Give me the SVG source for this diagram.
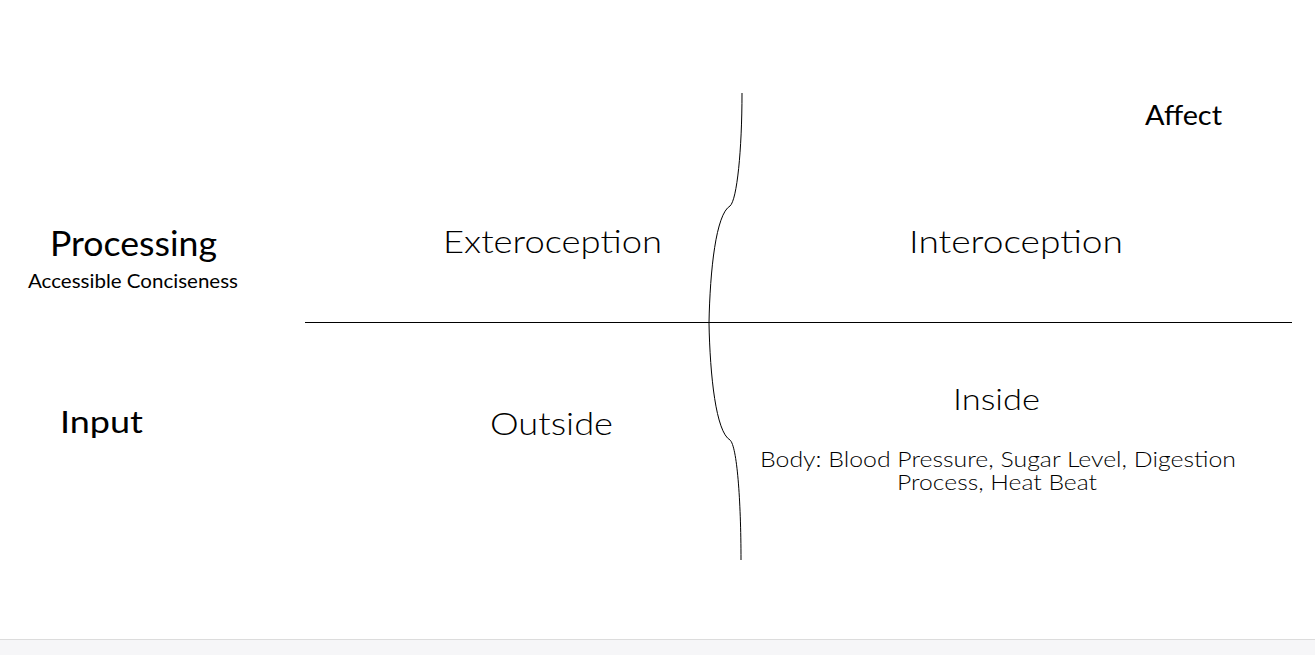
<svg xmlns="http://www.w3.org/2000/svg" width="1315" height="655" viewBox="0 0 1315 655">
<style>
.t{font-family:Lato,"Open Sans","Liberation Sans",sans-serif;fill:#000;text-anchor:middle}
.l{font-weight:300}
.ln{fill:none;stroke:#000;stroke-width:1}
</style>
<rect width="1315" height="655" fill="#fff"/>
<rect x="0" y="640" width="1315" height="15" fill="#f6f6f8"/>
<line x1="0" y1="639.5" x2="1315" y2="639.5" stroke="#dcdcdc" stroke-width="1"/>
<g id="connectors">
<line class="ln" x1="305" y1="322.5" x2="1292" y2="322.5"/>
<path class="ln" stroke="#333" d="M742,93 C742,150 737,200 730,206 C716,214 710,270 709,323 C710,376 716,432 730,440 C737,446 741,500 741,560"/>
</g>
<g id="processing"><text class="t" x="133.5" y="256" font-size="34" textLength="167" lengthAdjust="spacingAndGlyphs">Processing</text>
<text class="t" x="133" y="288" font-size="19" textLength="210" lengthAdjust="spacingAndGlyphs">Accessible Conciseness</text></g>
<g id="input"><text class="t" x="101.5" y="433" font-size="31" textLength="83" lengthAdjust="spacingAndGlyphs">Input</text></g>
<g id="exteroception"><text class="t l" x="552.5" y="253" font-size="32" textLength="219" lengthAdjust="spacingAndGlyphs">Exteroception</text></g>
<g id="interoception"><text class="t l" x="1016" y="253" font-size="32" textLength="214" lengthAdjust="spacingAndGlyphs">Interoception</text></g>
<g id="outside"><text class="t l" x="551.5" y="435" font-size="32" textLength="123" lengthAdjust="spacingAndGlyphs">Outside</text></g>
<g id="inside"><text class="t l" x="996.5" y="410" font-size="30" textLength="87" lengthAdjust="spacingAndGlyphs">Inside</text>
<text class="t l" x="998" y="467" font-size="21" textLength="476" lengthAdjust="spacingAndGlyphs">Body: Blood Pressure, Sugar Level, Digestion</text>
<text class="t l" x="997" y="490" font-size="21" textLength="200" lengthAdjust="spacingAndGlyphs">Process, Heat Beat</text></g>
<g id="affect"><text class="t" x="1183.5" y="125" font-size="26" textLength="77" lengthAdjust="spacingAndGlyphs">Affect</text></g>
</svg>
